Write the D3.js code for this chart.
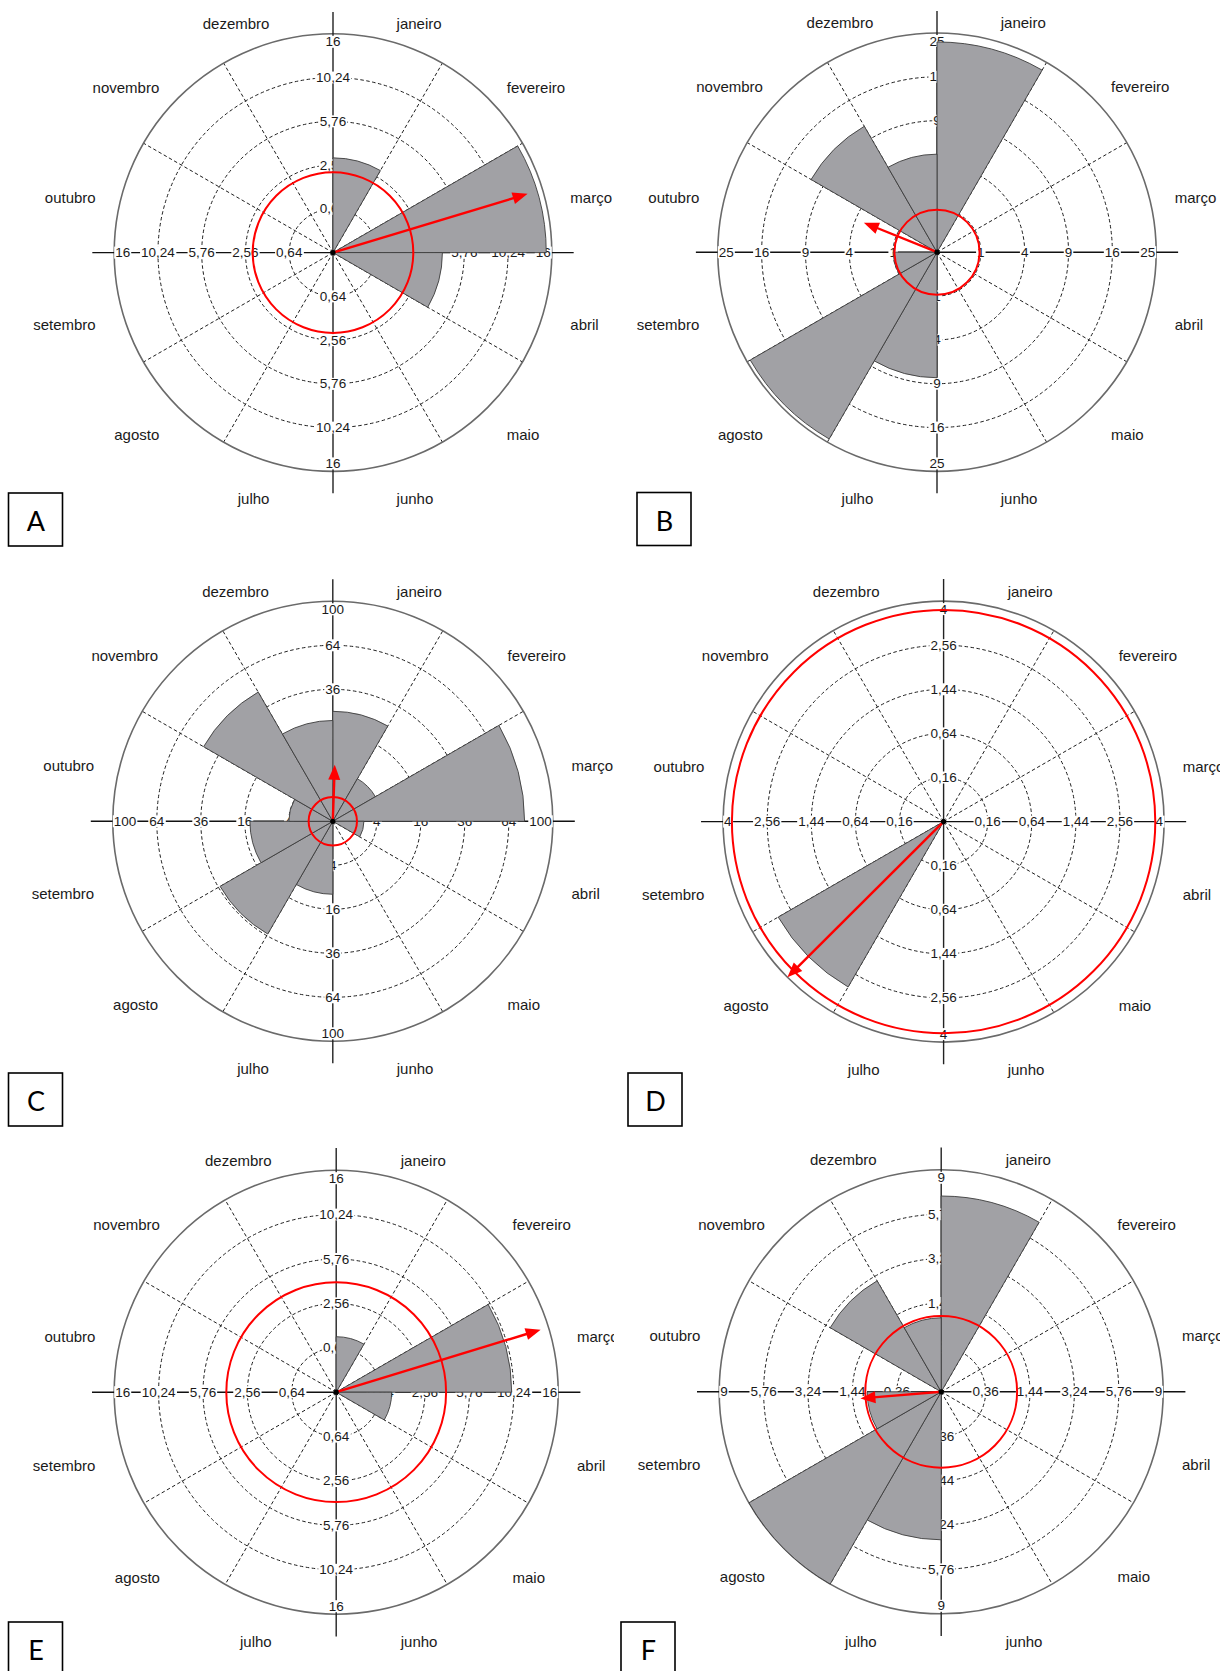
<!DOCTYPE html>
<html>
<head>
<meta charset="utf-8">
<script src="https://cdn.jsdelivr.net/npm/d3@7"></script>
<style>
  body { margin: 0; background: #fff; }
  svg { display: block; }
</style>
</head>
<body>
<svg id="chart" width="1232" height="1671"></svg>
<script>
// Month names, clockwise from the top
const months = ["janeiro", "fevereiro", "março", "abril", "maio", "junho",
                "julho", "agosto", "setembro", "outubro", "novembro", "dezembro"];

const panelNames = ["A", "B", "C", "D", "E", "F"];

// Monthly totals per panel (janeiro … dezembro)
const valuesA = [3, 0, 15.2, 4, 0, 0, 0, 0, 0, 0, 0, 0];
const valuesB = [23, 0, 0, 0, 0, 0, 8.2, 24.2, 1, 0, 11, 5];
const valuesC = [25, 5, 76, 2, 0, 0, 11, 35, 14.2, 4, 46, 21];
const valuesD = [0, 0, 0, 0, 0, 0, 0, 3, 0, 0, 0, 0];
const valuesE = [1, 0, 10, 1, 0, 0, 0, 0, 0, 0, 0, 0];
const valuesF = [7, 0, 0, 0, 0, 0, 4, 9, 1, 0, 3, 1];

// Radial tick values (square-root scale, last one = outer circle)
const ticksA = [0.64, 2.56, 5.76, 10.24, 16];
const ticksB = [1, 4, 9, 16, 25];
const ticksC = [4, 16, 36, 64, 100];
const ticksD = [0.16, 0.64, 1.44, 2.56, 4];
const ticksE = [0.64, 2.56, 5.76, 10.24, 16];
const ticksF = [0.36, 1.44, 3.24, 5.76, 9];

// Mean direction (degrees clockwise from north) and mean resultant length (0–1)
const meanDirection = [73.2, 292, 2, 225.1, 73, 265.3];
const meanLength = [0.929, 0.36, 0.257, 1.0, 0.963, 0.365];
// Reference circle radius (fraction of the outer circle)
const refCircle = [0.367, 0.194, 0.11, 0.96, 0.495, 0.342];

const allValues = [valuesA, valuesB, valuesC, valuesD, valuesE, valuesF];
const allTicks = [ticksA, ticksB, ticksC, ticksD, ticksE, ticksF];

// Page layout of the six roses
const layout = [
  { cx: 333.0, cy: 252.6, R: 218.8, clip: [0, 0, 614, 560], box: [8.5, 493] },
  { cx: 937.0, cy: 252.2, R: 219.2, clip: [617, 0, 603, 560], box: [637, 492.5] },
  { cx: 332.8, cy: 821.3, R: 220.0, clip: [0, 560, 614, 566], box: [8.5, 1073] },
  { cx: 943.6, cy: 821.6, R: 220.5, clip: [617, 560, 603, 566], box: [628, 1073] },
  { cx: 336.2, cy: 1392.2, R: 222.0, clip: [0, 1130, 614, 541], box: [8.5, 1622] },
  { cx: 941.2, cy: 1391.8, R: 222.0, clip: [617, 1130, 603, 541], box: [621, 1622] }
];

const svg = d3.select("#chart");
svg.append("rect").attr("width", 1232).attr("height", 1671).attr("fill", "#fff");
const defs = svg.append("defs");

const fmt = v => String(v).replace(".", ",");
const deg = Math.PI / 180;

panelNames.forEach((name, p) => {
  const L = layout[p];
  const R = L.R;
  const values = allValues[p];
  const ticks = allTicks[p];
  const rScale = d3.scaleSqrt().domain([0, ticks[ticks.length - 1]]).range([0, R]);

  defs.append("clipPath").attr("id", "clip" + name)
    .append("rect")
    .attr("x", L.clip[0]).attr("y", L.clip[1])
    .attr("width", L.clip[2]).attr("height", L.clip[3]);

  const outer = svg.append("g").attr("clip-path", `url(#clip${name})`);
  const g = outer.append("g").attr("transform", `translate(${L.cx},${L.cy})`);

  // dashed rings
  g.selectAll("circle.ring")
    .data(ticks.slice(0, -1))
    .join("circle")
    .attr("class", "ring")
    .attr("r", d => rScale(d))
    .attr("fill", "none")
    .attr("stroke", "#1e1e1e")
    .attr("stroke-width", 1)
    .attr("stroke-dasharray", "3.5,2.5");

  // dashed month dividers
  const spokes = d3.range(12).map(i => i * 30).filter(a => a % 90 !== 0);
  g.selectAll("line.spoke")
    .data(spokes)
    .join("line")
    .attr("class", "spoke")
    .attr("x1", 0).attr("y1", 0)
    .attr("x2", a => R * Math.sin(a * deg))
    .attr("y2", a => -R * Math.cos(a * deg))
    .attr("stroke", "#1e1e1e")
    .attr("stroke-width", 1)
    .attr("stroke-dasharray", "3.5,2.5");

  // outer circle
  g.append("circle").attr("r", R)
    .attr("fill", "none").attr("stroke", "#6a6a6a").attr("stroke-width", 1.6);

  // axes
  const ext = R * 1.1;
  g.append("line").attr("x1", -ext).attr("x2", ext).attr("y1", 0).attr("y2", 0)
    .attr("stroke", "#111").attr("stroke-width", 1.4);
  g.append("line").attr("x1", 0).attr("x2", 0).attr("y1", -ext).attr("y2", ext)
    .attr("stroke", "#222").attr("stroke-width", 1.4);

  // tick labels along the four half-axes
  const labelLayer = g.append("g")
    .attr("font-family", "'Liberation Sans', Arial, sans-serif")
    .attr("font-size", 13.5)
    .attr("fill", "#1a1a1a");
  const dirs = [[1, 0], [-1, 0], [0, -1], [0, 1]];
  dirs.forEach(([dx, dy]) => {
    ticks.forEach((t, k) => {
      const last = k === ticks.length - 1;
      const lg = labelLayer.append("g");
      const txt = lg.append("text")
        .attr("dominant-baseline", "central")
        .text(fmt(t));
      if (dy === 0) {
        const pos = last ? R - 1 : rScale(t);
        txt.attr("x", dx * pos).attr("y", 0)
          .attr("text-anchor", last ? (dx > 0 ? "end" : "start") : "middle");
      } else {
        const pos = last ? R - 8 : rScale(t);
        txt.attr("x", 0).attr("y", dy * pos).attr("text-anchor", "middle");
      }
      const bb = txt.node().getBBox();
      lg.insert("rect", "text")
        .attr("x", bb.x - 1).attr("y", bb.y + 1.5)
        .attr("width", bb.width + 2).attr("height", bb.height - 3)
        .attr("fill", "#fff");
    });
  });

  // monthly sectors
  const arc = d3.arc()
    .innerRadius(0)
    .outerRadius(d => rScale(d.v))
    .startAngle(d => d.i * 30 * deg)
    .endAngle(d => (d.i + 1) * 30 * deg);
  g.selectAll("path.bar")
    .data(values.map((v, i) => ({ v, i })).filter(d => d.v > 0))
    .join("path")
    .attr("class", "bar")
    .attr("d", arc)
    .attr("fill", "#a1a1a5")
    .attr("stroke", "#3c3c3c")
    .attr("stroke-width", 0.9);

  // reference circle
  g.append("circle").attr("r", refCircle[p] * R)
    .attr("fill", "none").attr("stroke", "#ff0000").attr("stroke-width", 2);

  // mean direction arrow
  const a = meanDirection[p] * deg;
  const len = meanLength[p] * R;
  const ux = Math.sin(a), uy = -Math.cos(a);
  const headL = 15, headW = 6;
  const bx = ux * (len - headL), by = uy * (len - headL);
  g.append("line")
    .attr("x1", 0).attr("y1", 0).attr("x2", bx + ux * 2).attr("y2", by + uy * 2)
    .attr("stroke", "#ff0000").attr("stroke-width", 2.4);
  g.append("path")
    .attr("d", d3.line()([
      [ux * len, uy * len],
      [bx - uy * headW, by + ux * headW],
      [bx + uy * headW, by - ux * headW]
    ]) + "Z")
    .attr("fill", "#ff0000");

  // centre point
  g.append("circle").attr("r", 2.6).attr("fill", "#000");

  // month names
  const monthLayer = g.append("g")
    .attr("font-family", "'Liberation Sans', Arial, sans-serif")
    .attr("font-size", 15)
    .attr("fill", "#1a1a1a");
  monthLayer.selectAll("text")
    .data(months)
    .join("text")
    .attr("x", (m, i) => 1.123 * R * Math.sin((i + 0.5) * 30 * deg))
    .attr("y", (m, i) => -1.123 * R * Math.cos((i + 0.5) * 30 * deg) + 0.039 * R)
    .attr("dominant-baseline", "central")
    .attr("text-anchor", (m, i) => i < 6 ? "start" : "end")
    .text(m => m);

  // panel letter
  const box = svg.append("g").attr("transform", `translate(${L.box[0]},${L.box[1]})`);
  box.append("rect").attr("width", 54).attr("height", 53)
    .attr("fill", "#fff").attr("stroke", "#000").attr("stroke-width", 1.6);
  box.append("text")
    .attr("x", 27.5).attr("y", 27.5)
    .attr("text-anchor", "middle")
    .attr("dominant-baseline", "central")
    .attr("font-family", "Lato, 'Open Sans', sans-serif")
    .attr("font-size", 27)
    .attr("fill", "#000")
    .text(name);
});
</script>
</body>
</html>
